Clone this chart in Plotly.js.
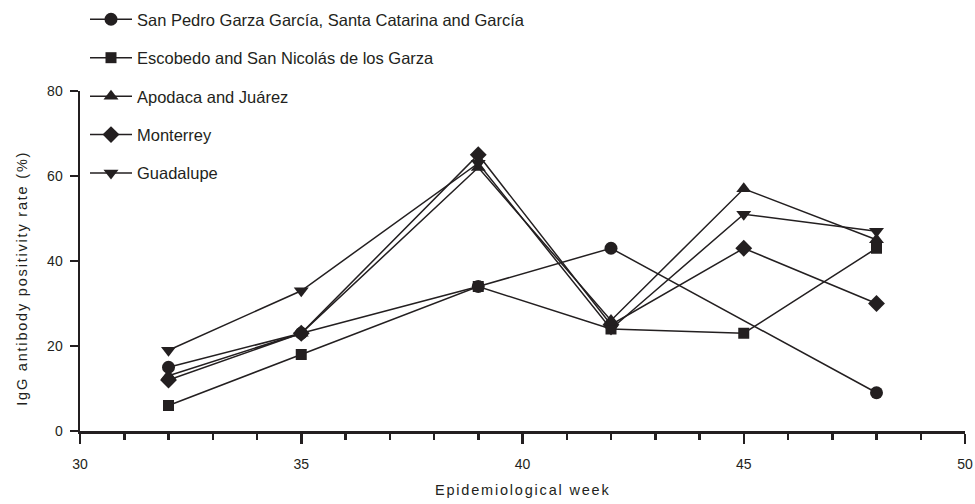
<!DOCTYPE html>
<html>
<head>
<meta charset="utf-8">
<script src="https://cdn.plot.ly/plotly-3.0.1.min.js"></script>
<style>
html,body{margin:0;padding:0;background:#fff}
#chart{width:975px;height:504px}
#chart .annotation-text{letter-spacing:1.8px}
</style>
</head>
<body>
<div id="chart"></div>
<script>
const seriesNames = [
  "San Pedro Garza García, Santa Catarina and García",
  "Escobedo and San Nicolás de los Garza",
  "Apodaca and Juárez",
  "Monterrey",
  "Guadalupe"
];
const weeksSanPedro = [32, 35, 39, 42, 48];
const valuesSanPedro = [15, 23, 34, 43, 9];
const weeksAll = [32, 35, 39, 42, 45, 48];
const valuesEscobedo = [6, 18, 34, 24, 23, 43];
const valuesApodaca = [13, 23, 62, 26, 57, 45];
const valuesMonterrey = [12, 23, 65, 25, 43, 30];
const valuesGuadalupe = [19, 33, 63, 24, 51, 47];
const xTitle = 'Epidemiological week';
const yTitle = 'IgG antibody positivity rate (%)';

const ink = '#231f20';
const symbols = ['circle', 'square', 'triangle-up', 'diamond', 'triangle-down'];
const sizes = [13, 11, 13, 13, 13];
const xs = [weeksSanPedro, weeksAll, weeksAll, weeksAll, weeksAll];
const ys = [valuesSanPedro, valuesEscobedo, valuesApodaca, valuesMonterrey, valuesGuadalupe];

const traces = seriesNames.map((name, i) => ({
  type: 'scatter',
  mode: 'lines+markers',
  name: name,
  legendgroup: 'g' + i,
  x: xs[i],
  y: ys[i],
  line: {color: ink, width: 1.5},
  marker: {symbol: symbols[i], size: sizes[i], color: ink},
  cliponaxis: false
}));

const layout = {
  width: 975,
  height: 504,
  margin: {l: 80, r: 10, t: 91, b: 73, autoexpand: false},
  paper_bgcolor: '#fff',
  plot_bgcolor: '#fff',
  font: {family: 'Liberation Sans, Arial, sans-serif', color: ink, size: 14},
  showlegend: true,
  legend: {
    xref: 'container', yref: 'container',
    x: 85 / 975, y: 0.996, xanchor: 'left', yanchor: 'top',
    font: {size: 16.5, color: ink},
    itemwidth: 42,
    tracegroupgap: 14,
    bgcolor: 'rgba(0,0,0,0)'
  },
  xaxis: {
    range: [30, 50],
    tick0: 30, dtick: 5,
    ticks: 'outside', ticklen: 10, tickwidth: 2.5, tickcolor: ink,
    ticklabelstandoff: 9,
    minor: {dtick: 1, ticks: 'outside', ticklen: 6, tickwidth: 2.5, tickcolor: ink, showgrid: false},
    showline: true, linewidth: 2.5, linecolor: ink,
    showgrid: false, zeroline: false,
    tickfont: {size: 14, color: ink}
  },
  yaxis: {
    range: [0, 80],
    tick0: 0, dtick: 20,
    ticks: 'outside', ticklen: 8, tickwidth: 2.5, tickcolor: ink,
    ticklabelstandoff: 4,
    showline: true, linewidth: 2.5, linecolor: ink,
    showgrid: false, zeroline: false,
    tickfont: {size: 14, color: ink}
  },
  annotations: [
    {text: xTitle, xref: 'paper', yref: 'paper', x: 0.5, y: (431 - 490) / 340,
     xanchor: 'center', yanchor: 'middle', showarrow: false, font: {size: 14.5, color: ink}},
    {text: yTitle, xref: 'paper', yref: 'paper', x: (22 - 80) / 885, y: (431 - 279) / 340,
     xanchor: 'center', yanchor: 'middle', textangle: -90, showarrow: false, font: {size: 14.5, color: ink}}
  ]
};

Plotly.newPlot('chart', traces, layout, {displayModeBar: false, staticPlot: true});
</script>
</body>
</html>
